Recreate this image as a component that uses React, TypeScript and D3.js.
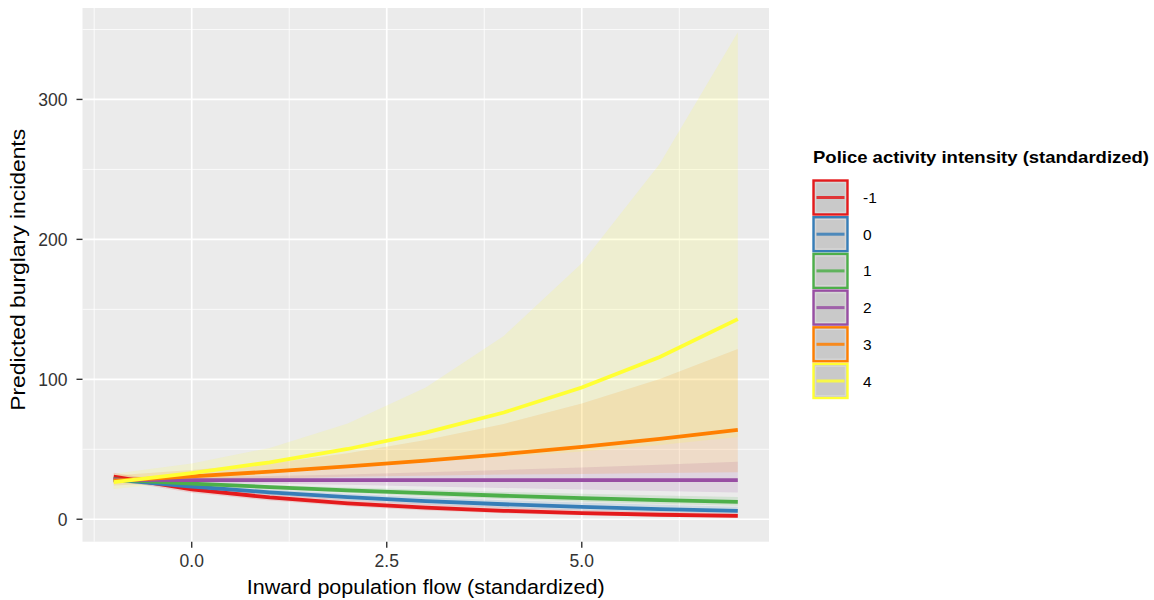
import React from "react";
import * as d3 from "d3";

// ---- data ----
const xValues = [-1, 0, 1, 2, 3, 4, 5, 6, 7];
const groupLabels = ["-1", "0", "1", "2", "3", "4"];
const groupColors = ["#E41A1C", "#377EB8", "#4DAF4A", "#984EA3", "#FF7F00", "#FFFF33"];

const fitNeg1 = [30.5, 21.3, 15.6, 11.35, 8.3, 6.05, 4.4, 3.2, 2.35];
const lowNeg1 = [28.0, 18.9, 13.4, 9.2, 6.2, 4.2, 2.85, 1.9, 1.29];
const highNeg1 = [33.2, 24.0, 18.1, 14.0, 11.0, 8.7, 6.8, 5.4, 4.3];

const fit0 = [28.4, 23.4, 19.2, 15.8, 13.0, 10.7, 8.8, 7.25, 5.96];
const low0 = [26.4, 21.6, 17.4, 13.7, 10.8, 8.4, 6.5, 5.1, 4.0];
const high0 = [30.6, 25.3, 21.2, 18.2, 15.7, 13.6, 11.9, 10.3, 8.9];

const fit1 = [28.4, 25.5, 23.0, 20.7, 18.6, 16.8, 15.1, 13.6, 12.4];
const low1 = [26.8, 24.3, 21.6, 18.9, 16.5, 14.5, 12.5, 10.9, 9.7];
const high1 = [30.0, 26.8, 24.5, 22.7, 21.0, 19.5, 18.3, 16.9, 15.9];

const fit2 = [28.2, 28.0, 28.0, 28.0, 28.0, 28.0, 28.0, 28.0, 28.0];
const low2 = [26.0, 25.8, 25.3, 24.6, 23.4, 22.3, 21.2, 20.1, 19.1];
const high2 = [30.4, 30.3, 30.9, 31.9, 33.5, 35.2, 37.0, 38.9, 41.0];

const fit3 = [27.5, 30.6, 34.0, 37.8, 41.9, 46.6, 51.7, 57.5, 63.8];
const low3 = [24.2, 26.6, 29.0, 30.3, 31.0, 31.9, 32.3, 33.0, 33.5];
const high3 = [31.3, 35.2, 39.9, 47.1, 56.6, 68.1, 82.7, 100.2, 121.6];

const fit4 = [26.5, 33.0, 40.7, 50.2, 61.9, 76.3, 94.1, 116.0, 143.0];
const low4 = [21.6, 27.3, 32.5, 36.8, 40.7, 44.4, 48.4, 53.0, 58.8];
const high4 = [32.5, 39.9, 51.0, 68.4, 94.2, 131.0, 183.0, 254.0, 348.0];

const xTickValues = [0, 2.5, 5];
const yTickValues = [0, 100, 200, 300];

const xTitle = "Inward population flow (standardized)";
const yTitle = "Predicted burglary incidents";
const legendTitle = "Police activity intensity (standardized)";

const fits = [fitNeg1, fit0, fit1, fit2, fit3, fit4];
const lows = [lowNeg1, low0, low1, low2, low3, low4];
const highs = [highNeg1, high0, high1, high2, high3, high4];

// ---- layout ----
const W = 1154;
const H = 600;
const panel = { left: 82.5, right: 769, top: 8, bottom: 541.7 };
const FONT = "Arimo, 'Liberation Sans', Arial, Helvetica, sans-serif";

function expand(ext: [number, number]): [number, number] {
  const r = ext[1] - ext[0];
  return [ext[0] - r * 0.05, ext[1] + r * 0.05];
}

export default function App() {
  const xExt = d3.extent(xValues) as [number, number];
  const allY = ([] as number[]).concat(...lows, ...highs, ...fits);
  const yExt = d3.extent(allY) as [number, number];

  const x = d3.scaleLinear().domain(expand(xExt)).range([panel.left, panel.right]);
  const y = d3.scaleLinear().domain(expand(yExt)).range([panel.bottom, panel.top]);

  const xDom = x.domain();
  const yDom = y.domain();

  const xStep = xTickValues[1] - xTickValues[0];
  const yStep = yTickValues[1] - yTickValues[0];
  const xMinor: number[] = [];
  for (let v = xTickValues[0] - xStep / 2; v <= xDom[1]; v += xStep) if (v >= xDom[0]) xMinor.push(v);
  const yMinor: number[] = [];
  for (let v = yTickValues[0] - yStep / 2; v <= yDom[1]; v += yStep) if (v >= yDom[0]) yMinor.push(v);

  const ribbon = (lo: number[], hi: number[]) =>
    d3
      .area<number>()
      .x((_, i) => x(xValues[i]))
      .y0((_, i) => y(lo[i]))
      .y1((_, i) => y(hi[i]))(xValues) || "";

  const line = (f: number[]) =>
    d3
      .line<number>()
      .x((_, i) => x(xValues[i]))
      .y((_, i) => y(f[i]))(xValues) || "";

  const fmt = d3.format(".1f");

  const legendX = 813.5;
  const legendY0 = 180.5;
  const keyW = 34;
  const keyH = 34;
  const keyStep = 36.7;

  return (
    <svg
      width={W}
      height={H}
      style={{ position: "absolute", left: 0, top: 0, background: "#fff" }}
      fontFamily={FONT}
    >
      <rect x={0} y={0} width={W} height={H} fill="#fff" />
      {/* panel */}
      <rect
        x={panel.left}
        y={panel.top}
        width={panel.right - panel.left}
        height={panel.bottom - panel.top}
        fill="#EBEBEB"
      />
      {/* minor grid */}
      {xMinor.map((v) => (
        <line key={"xm" + v} x1={x(v)} x2={x(v)} y1={panel.top} y2={panel.bottom} stroke="#fff" strokeWidth={0.8} />
      ))}
      {yMinor.map((v) => (
        <line key={"ym" + v} x1={panel.left} x2={panel.right} y1={y(v)} y2={y(v)} stroke="#fff" strokeWidth={0.8} />
      ))}
      {/* major grid */}
      {xTickValues.map((v) => (
        <line key={"xM" + v} x1={x(v)} x2={x(v)} y1={panel.top} y2={panel.bottom} stroke="#fff" strokeWidth={1.7} />
      ))}
      {yTickValues.map((v) => (
        <line key={"yM" + v} x1={panel.left} x2={panel.right} y1={y(v)} y2={y(v)} stroke="#fff" strokeWidth={1.7} />
      ))}

      {/* ribbons */}
      {groupLabels.map((g, i) => (
        <path key={"r" + g} d={ribbon(lows[i], highs[i])} fill={groupColors[i]} fillOpacity={0.15} stroke="none" />
      ))}
      {/* lines */}
      {groupLabels.map((g, i) => (
        <path key={"l" + g} d={line(fits[i])} fill="none" stroke={groupColors[i]} strokeWidth={3.8} />
      ))}

      {/* y axis */}
      {yTickValues.map((v) => (
        <g key={"yt" + v}>
          <line x1={panel.left - 6} x2={panel.left} y1={y(v)} y2={y(v)} stroke="#333" strokeWidth={1.4} />
          <text x={panel.left - 15} y={y(v)} dy="0.36em" textAnchor="end" fontSize={17.5} fill="#333">
            {v}
          </text>
        </g>
      ))}
      {/* x axis */}
      {xTickValues.map((v) => (
        <g key={"xt" + v}>
          <line x1={x(v)} x2={x(v)} y1={panel.bottom} y2={panel.bottom + 6} stroke="#333" strokeWidth={1.4} />
          <text x={x(v)} y={panel.bottom + 25.5} textAnchor="middle" fontSize={17.5} fill="#333">
            {fmt(v)}
          </text>
        </g>
      ))}

      {/* axis titles */}
      <text
        x={(panel.left + panel.right) / 2}
        y={594}
        textAnchor="middle"
        fontSize={20.5}
        textLength={358}
        lengthAdjust="spacingAndGlyphs"
        fill="#000"
      >
        {xTitle}
      </text>
      <text
        transform={`translate(25,${(panel.top + panel.bottom) / 2 - 5}) rotate(-90)`}
        textAnchor="middle"
        fontSize={20.5}
        textLength={282}
        lengthAdjust="spacingAndGlyphs"
        fill="#000"
      >
        {yTitle}
      </text>

      {/* legend */}
      <text
        x={813}
        y={163}
        fontSize={16.5}
        fontWeight="bold"
        textLength={336}
        lengthAdjust="spacingAndGlyphs"
        fill="#000"
      >
        {legendTitle}
      </text>
      {groupLabels.map((g, i) => {
        const ky = legendY0 + i * keyStep;
        return (
          <g key={"lg" + g}>
            <rect x={legendX} y={ky} width={keyW} height={keyH} fill="#C9C9C9" stroke={groupColors[i]} strokeWidth={2.4} />
            <rect
              x={legendX + 2.2}
              y={ky + 2.2}
              width={keyW - 4.4}
              height={keyH - 4.4}
              fill="none"
              stroke="#DADADA"
              strokeWidth={1}
            />
            <line
              x1={legendX + 3}
              x2={legendX + keyW - 3}
              y1={ky + keyH / 2}
              y2={ky + keyH / 2}
              stroke={groupColors[i]}
              strokeOpacity={0.85}
              strokeWidth={3}
            />
            <text x={863} y={ky + keyH / 2} dy="0.36em" fontSize={15.5} fill="#000">
              {g}
            </text>
          </g>
        );
      })}
    </svg>
  );
}
